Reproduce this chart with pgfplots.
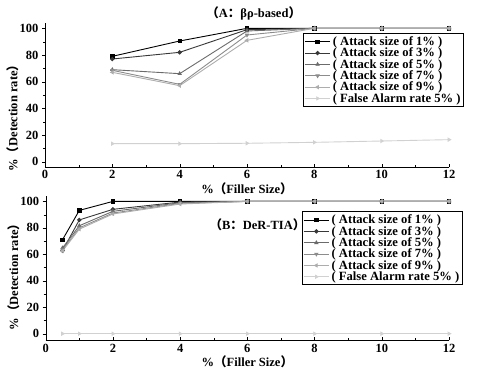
\documentclass[border=0pt]{standalone}
\usepackage{pgfplots}
\pgfplotsset{compat=1.18}
\usepackage{fontspec}
\setmainfont{Liberation Serif}
\newfontfamily\cjk{Noto Sans CJK SC}
\definecolor{c1}{gray}{0.0}
\definecolor{c3}{gray}{0.22}
\definecolor{c5}{gray}{0.42}
\definecolor{c7}{gray}{0.55}
\definecolor{c9}{gray}{0.68}
\definecolor{cf}{gray}{0.82}
\pgfplotsset{
  base/.style={
    scale only axis,
    xmin=0, xmax=12,
    axis x line*=bottom, axis y line*=left,
    xtick={0,2,...,12}, minor xtick={1,3,...,11},
    ytick={0,20,...,100}, minor ytick={10,30,...,90},
    /pgf/number format/assume math mode=true,
    tick label style={font=\bfseries\fontsize{12.5}{12.5}\selectfont},
    label style={font=\bfseries\fontsize{12.5}{13}\selectfont},
    major tick length=3pt, minor tick length=2pt,
    tick style={black},
    xtick align=inside, ytick align=outside,
    xlabel={\%{\cjk （}Filler Size{\cjk ）}},
    ylabel={\%{\cjk （}Detection rate{\cjk ）}},
    xlabel style={yshift=3pt},
    clip=false,
    every axis plot/.append style={line width=0.9pt, mark size=1.7pt},
    legend cell align=left,
    legend style={draw=black, line width=0.8pt, inner sep=1pt, row sep=-3pt,
      font=\bfseries\fontsize{12.6}{12.6}\selectfont, anchor=north east},
    legend image code/.code={\draw[mark repeat=2,mark phase=2,#1] plot coordinates {(0cm,0cm) (0.45cm,0cm) (0.9cm,0cm)};},
  },
  s1/.style={c1, mark=square*, mark options={solid, fill=c1}},
  s3/.style={c3, mark=*, mark options={solid, fill=c3}},
  s5/.style={c5, mark=triangle*, mark options={solid, fill=c5}},
  s7/.style={c7, mark=triangle*, mark options={solid, fill=c7, rotate=180}},
  s9/.style={c9, mark=triangle*, mark options={solid, fill=c9, rotate=90}},
  sf/.style={cf, mark=triangle*, mark options={solid, fill=cf, rotate=-90}},
}
\begin{document}
\begin{tikzpicture}
\useasboundingbox (0,0) rectangle (478pt,376pt);
% Top panel
\begin{axis}[base,
  at={(45pt,209pt)}, anchor=south west,
  width=404pt, height=144pt,
  ymin=-4, ymax=104,
  ylabel style={at={(axis description cs:-0.08,0.36)}, anchor=center},
  legend style={at={(1.037,0.93)}},
]
\addplot[s1] coordinates {(2,79) (4,90.5) (6,100) (8,100) (10,100) (12,100)};
\addplot[s3] coordinates {(2,77) (4,82) (6,99) (8,100) (10,100) (12,100)};
\addplot[s5] coordinates {(2,69) (4,66) (6,98) (8,100) (10,100) (12,100)};
\addplot[s7] coordinates {(2,68.5) (4,58) (6,95) (8,100) (10,100) (12,100)};
\addplot[s9] coordinates {(2,67) (4,57) (6,91) (8,100) (10,100) (12,100)};
\addplot[sf] coordinates {(2,13.5) (4,13.5) (6,13.8) (8,14.5) (10,15.5) (12,16.5)};
\legend{( Attack size of 1\% ), ( Attack size of 3\% ), ( Attack size of 5\% ), ( Attack size of 7\% ), ( Attack size of 9\% ), ( False Alarm rate 5\% )}
\node[font=\bfseries\fontsize{12.5}{13}\selectfont] at (axis cs:6.2,111.5) {{\cjk （}A{\cjk ：}βρ-based{\cjk ）}};
\end{axis}
% Bottom panel
\begin{axis}[base,
  at={(45.7pt,35.7pt)}, anchor=south west,
  width=403.3pt, height=144.2pt,
  ymin=-5, ymax=104,
  ylabel style={at={(axis description cs:-0.08,0.46)}, anchor=center},
  legend style={at={(1.034,0.894)}},
]
\addplot[s1] coordinates {(0.5,71) (1,93.2) (2,100) (4,100) (6,100) (8,100) (10,100) (12,100)};
\addplot[s3] coordinates {(0.5,62.7) (1,86) (2,94) (4,99.5) (6,100) (8,100) (10,100) (12,100)};
\addplot[s5] coordinates {(0.5,64.8) (1,81.6) (2,92.5) (4,99) (6,100) (8,100) (10,100) (12,100)};
\addplot[s7] coordinates {(0.5,63.5) (1,80) (2,91.2) (4,98.5) (6,100) (8,100) (10,100) (12,100)};
\addplot[s9] coordinates {(0.5,62.5) (1,79) (2,90.5) (4,98) (6,100) (8,100) (10,100) (12,100)};
\addplot[sf] coordinates {(0.5,0) (1,0) (2,0) (4,0) (6,0) (8,0) (10,0) (12,0)};
\legend{( Attack size of 1\% ), ( Attack size of 3\% ), ( Attack size of 5\% ), ( Attack size of 7\% ), ( Attack size of 9\% ), ( False Alarm rate 5\% )}
\node[font=\bfseries\fontsize{12.5}{13}\selectfont] at (axis cs:6.3,82.4) {{\cjk （}B{\cjk ：}DeR-TIA{\cjk ）}};
\end{axis}
\end{tikzpicture}
\end{document}
